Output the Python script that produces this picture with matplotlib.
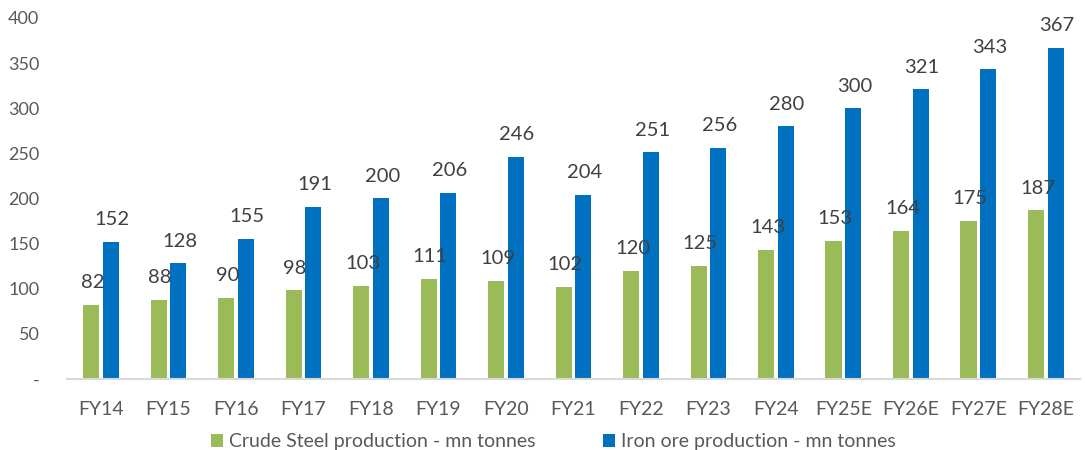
import matplotlib.pyplot as plt
import numpy as np

years = ["FY14", "FY15", "FY16", "FY17", "FY18", "FY19", "FY20", "FY21",
         "FY22", "FY23", "FY24", "FY25E", "FY26E", "FY27E", "FY28E"]
steel = [82, 88, 90, 98, 103, 111, 109, 102, 120, 125, 143, 153, 164, 175, 187]
iron_ore = [152, 128, 155, 191, 200, 206, 246, 204, 251, 256, 280, 300, 321, 343, 367]

plt.rcParams['font.family'] = ['Lato', 'DejaVu Sans']

fig = plt.figure(figsize=(10.85, 4.5), dpi=100)
ax = fig.add_axes([0.062, 0.158, 0.933, 0.802])

x = np.arange(len(years))
w = 0.24
b1 = ax.bar(x - 0.145, steel, w, color="#9BBB59", label="Crude Steel production - mn tonnes")
b2 = ax.bar(x + 0.145, iron_ore, w, color="#0070C0", label="Iron ore production - mn tonnes")

# 数据标签
for bars, vals in ((b1, steel), (b2, iron_ore)):
    for rect, v in zip(bars, vals):
        ax.annotate(str(v), (rect.get_x() + rect.get_width() / 2, v),
                    xytext=(1, 12), textcoords="offset points",
                    ha="center", va="baseline", fontsize=14.5, color="#404040")

ax.set_xlim(-0.5, len(years) - 0.5)
ax.set_ylim(0, 400)
ax.set_yticks(range(0, 401, 50))
ax.set_yticklabels(["-"] + [str(v) for v in range(50, 401, 50)])
ax.set_xticks(x)
ax.set_xticklabels(years, fontsize=14)
ax.tick_params(axis="both", length=0, labelsize=13, colors="#595959")
ax.tick_params(axis="x", pad=16, labelsize=14)
ax.tick_params(axis="y", pad=20)

for s in ("top", "right", "left"):
    ax.spines[s].set_visible(False)
ax.spines["bottom"].set_color("#D9D9D9")
ax.spines["bottom"].set_linewidth(1.5)

leg = fig.legend(loc="lower center", bbox_to_anchor=(0.51, -0.04), ncol=2,
                 frameon=False, fontsize=14, handlelength=0.6, handleheight=0.6,
                 handletextpad=0.3, columnspacing=3.5)
for t in leg.get_texts():
    t.set_color("#595959")

fig.savefig("out.png", dpi=100)
